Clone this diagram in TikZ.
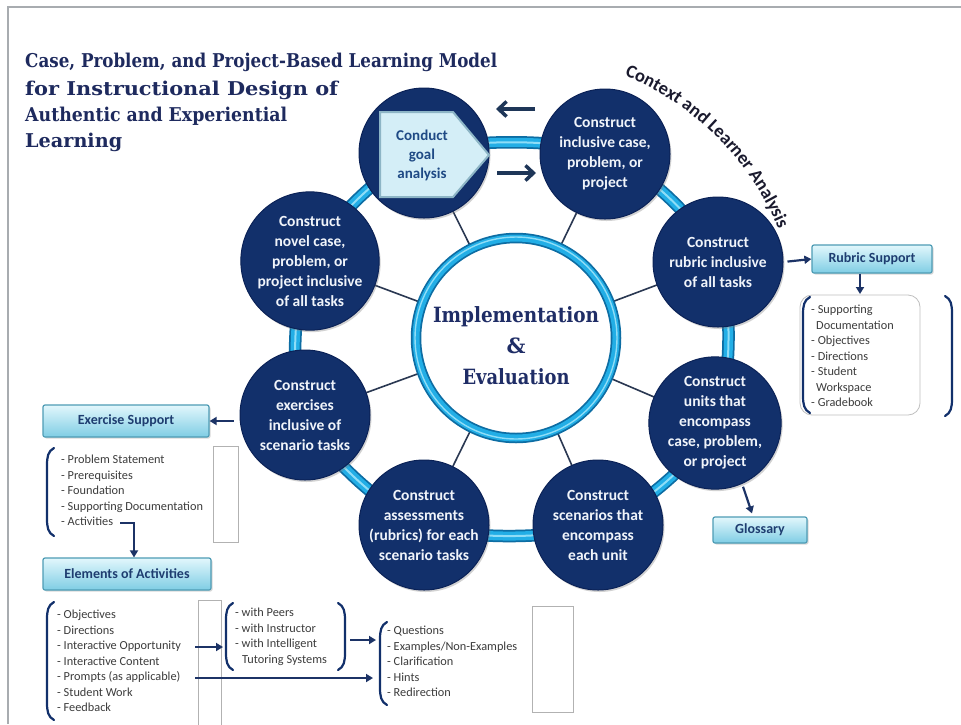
\documentclass[tikz,border=0pt]{standalone}
\usepackage{fontspec}
\usepackage{graphicx}
\setmainfont{Carlito}
\newfontfamily\serifbf{DejaVu Serif}
\usetikzlibrary{arrows.meta,shadows,decorations.text,calc}
\definecolor{navy}{HTML}{12306B}
\definecolor{navydark}{HTML}{0B2257}
\definecolor{ringcyan}{HTML}{22AEE6}
\definecolor{ringdark}{HTML}{0D6DA3}
\definecolor{ringlight}{HTML}{8EDDF7}
\definecolor{spokec}{HTML}{2A3852}
\definecolor{titlec}{HTML}{1E2A5E}
\definecolor{ctrtext}{HTML}{1F2D66}
\definecolor{btntop}{HTML}{E2F7FC}
\definecolor{btnbot}{HTML}{7FCDE4}
\definecolor{btnedge}{HTML}{4E9CB5}
\definecolor{btntext}{HTML}{1E3D70}
\definecolor{listtext}{HTML}{3C3C3C}
\definecolor{arrowc}{HTML}{1C3366}
\definecolor{bigarrc}{HTML}{1E3658}
\definecolor{pentfill}{HTML}{D4EEF7}
\definecolor{pentedge}{HTML}{8DB5C6}
\definecolor{penttext}{HTML}{1F4A85}
\definecolor{ctxcol}{HTML}{1A1A2E}
\definecolor{framegray}{HTML}{A8ACB0}
\definecolor{circtext}{HTML}{F0F4FA}
\newcommand\fitw[2]{\resizebox{#1}{\height}{#2}}
\newcommand\mylbrk[3]{\draw[brk] (#1+7,#2) .. controls (#1+1,#2+3) and (#1,#2+9) .. (#1,#2+17) -- (#1,#3-17) .. controls (#1,#3-9) and (#1+1,#3-3) .. (#1+7,#3);}
\newcommand\myrbrk[3]{\draw[brk] (#1-7,#2) .. controls (#1-1,#2+3) and (#1,#2+9) .. (#1,#2+17) -- (#1,#3-17) .. controls (#1,#3-9) and (#1-1,#3-3) .. (#1-7,#3);}
\begin{document}
\begin{tikzpicture}[x=1pt,y=-1pt,
  circ/.style={circle, fill=navy, draw=navydark, line width=1pt, minimum size=130pt, inner sep=0pt,
    text=circtext, align=center, font=\bfseries\fontsize{15.5}{20}\selectfont,
    drop shadow={opacity=0.35,shadow xshift=1.5pt,shadow yshift=-2pt}},
  btn/.style={rectangle, rounded corners=2pt, top color=btntop, bottom color=btnbot, draw=btnedge,
    line width=1.2pt, text=btntext, font=\bfseries\fontsize{14}{16}\selectfont, inner sep=0pt,
    drop shadow={opacity=0.3,shadow xshift=1.5pt,shadow yshift=-1.5pt}},
  lst/.style={anchor=north west, align=left, inner sep=0pt, text=listtext, font=\fontsize{12.3}{15.5}\selectfont},
  brk/.style={draw=navy, line width=2.2pt, line cap=round},
  arr/.style={draw=arrowc, line width=2.2pt, -{Triangle[length=7pt,width=8pt]}},
  bigarr/.style={draw=bigarrc, line width=3.5pt, -{Straight Barb[length=8pt,width=15pt]}},
  empt/.style={draw=black!30, line width=0.8pt},
  titlest/.style={anchor=base west, inner sep=0pt, text=titlec, font=\serifbf\bfseries\fontsize{19}{19}\selectfont}
]
\useasboundingbox (0,0) rectangle (961,724);
\fill[white] (0,0) rectangle (961,724);
\draw[framegray, line width=2pt] (8,724) -- (8,7) -- (961,7);

% title
\node[titlest] (t1) at (25,67) {\fitw{472pt}{Case, Problem, and Project-Based Learning Model}};
\node[titlest] (t2) at (25,95) {\fitw{313pt}{for Instructional Design of}};
\node[titlest] (t3) at (25,121) {\fitw{262pt}{Authentic and Experiential}};
\node[titlest] (t4) at (25,147) {\fitw{97pt}{Learning}};

% positions
\coordinate (cc) at (516,338);
\coordinate (p1) at (424,153);
\coordinate (p2) at (605,154);
\coordinate (p3) at (718,262);
\coordinate (p4) at (715,423);
\coordinate (p5) at (598,525);
\coordinate (p6) at (424,525);
\coordinate (p7) at (305,415);
\coordinate (p8) at (310,261);

% ring
\draw[ringdark, line width=12.5pt] plot[smooth cycle] coordinates {(p1) (p2) (p3) (p4) (p5) (p6) (p7) (p8)};
\draw[ringcyan, line width=9pt] plot[smooth cycle] coordinates {(p1) (p2) (p3) (p4) (p5) (p6) (p7) (p8)};
\draw[ringlight, line width=2pt] plot[smooth cycle] coordinates {(p1) (p2) (p3) (p4) (p5) (p6) (p7) (p8)};

% spokes
\foreach \i in {1,...,8} \draw[spokec, line width=1.6pt] (cc) -- (p\i);

% centre
\fill[white] (cc) circle[radius=100];
\draw[ringdark, line width=10.5pt] (cc) circle[radius=100];
\draw[ringcyan, line width=7pt] (cc) circle[radius=100];
\draw[ringlight, line width=1.4pt] (cc) circle[radius=101];
\node[circle, minimum size=190pt, inner sep=0pt, align=center, text=ctrtext,
  font=\serifbf\bfseries\fontsize{21}{31}\selectfont] (ctr) at (516,346)
  {\fitw{166pt}{Implementation}\\\&\\\fitw{107pt}{Evaluation}};

% outer circles
\node[circ] (c1) at (p1) {};
\node[circ] (c2) at (p2) {Construct\\inclusive case,\\problem, or\\project};
\node[circ] (c3) at (p3) {Construct\\rubric inclusive\\of all tasks};
\node[circ] (c4) at (p4) {Construct\\units that\\encompass\\case, problem,\\or project};
\node[circ] (c5) at (p5) {Construct\\scenarios that\\encompass\\each unit};
\node[circ] (c6) at (p6) {Construct\\assessments\\(rubrics) for each\\scenario tasks};
\node[circ] (c7) at (p7) {Construct\\exercises\\inclusive of\\scenario tasks};
\node[circ] (c8) at (p8) {Construct\\novel case,\\problem, or\\project inclusive\\of all tasks};

% goal pentagon
\coordinate (g1) at (380,112);
\coordinate (g2) at (453,112);
\coordinate (g3) at (489,155);
\coordinate (g4) at (453,197);
\coordinate (g5) at (380,197);
\draw[fill=pentfill, draw=pentedge, line width=2pt, line join=miter] (g1) -- (g2) -- (g3) -- (g4) -- (g5) -- cycle;
\node[text=penttext, font=\bfseries\fontsize{15}{19}\selectfont, align=center, inner sep=0pt] (goal) at (422,155) {Conduct\\goal\\analysis};

% arrows between c1 and c2
\coordinate (ta1) at (535,109);
\coordinate (ta2) at (496,109);
\coordinate (tb1) at (497,173);
\coordinate (tb2) at (536,173);
\draw[bigarr] (ta1) -- (ta2);
\draw[bigarr] (tb1) -- (tb2);

% context arc text
\path[decorate, decoration={text along path, text align=center, text color=ctxcol,
  text={|\bfseries\fontsize{18.5}{18.5}\selectfont|Context and Learner Analysis}}]
  ($(cc)+(-69:284)$) arc[start angle=-69, end angle=-21, radius=284];

% rubric support
\node[btn, minimum width=120pt, minimum height=28pt] (rub) at (872,259) {Rubric Support};
\draw[arr, shorten <=4pt] (c3.east) -- (rub.west);
\node[draw=black!25, line width=0.8pt, rounded corners=12pt, fill=white, minimum width=120pt, minimum height=120pt] (rbox) at (860,355) {};
\coordinate (rd) at (860,294);
\draw[arr] (rd |- rub.south) -- (rd);
\mylbrk{803}{297}{413}
\myrbrk{952}{296}{416}
\node[lst] (rlist) at (811,305) {- Supporting\\\hspace*{5pt}Documentation\\- Objectives\\- Directions\\- Student\\\hspace*{5pt}Workspace\\- Gradebook};

% glossary
\node[btn, minimum width=94pt, minimum height=26pt] (glos) at (760,530) {Glossary};
\draw[arr, shorten <=3pt] (c4.-66) -- ([xshift=-8pt,yshift=3pt]glos.north);

% exercise support
\node[btn, minimum width=166pt, minimum height=32pt] (exs) at (126,421) {Exercise Support};
\draw[arr, shorten <=6pt] ([yshift=-6pt]c7.west) -- (exs.east);
\mylbrk{47}{448}{536}
\node[lst] (elist) at (61,455) {- Problem Statement\\- Prerequisites\\- Foundation\\- Supporting Documentation\\- Activities};
\draw[empt] (213,446) rectangle (238,542);

% elements of activities
\node[btn, minimum width=168pt, minimum height=32pt] (ela) at (127,574) {Elements of Activities};
\coordinate (ea1) at (120,523);
\coordinate (ea2) at (134,523);
\draw[arr] (ea1) -- (ea2) -- (ea2 |- ela.north);
\mylbrk{47}{602}{720}
\node[lst] (alist) at (57,610) {- Objectives\\- Directions\\- Interactive Opportunity\\- Interactive Content\\- Prompts (as applicable)\\- Student Work\\- Feedback};
\draw[empt] (198,726) -- (198,600) -- (221,600) -- (221,726);

% peers group
\mylbrk{226}{603}{670}
\myrbrk{345}{603}{670}
\node[lst] (plist) at (235,608) {- with Peers\\- with Instructor\\- with Intelligent\\\hspace*{7pt}Tutoring Systems};
\coordinate (io1) at (195,647);
\coordinate (io2) at (223,647);
\draw[arr] (io1) -- (io2);
\coordinate (pq1) at (350,640);
\coordinate (pq2) at (376,640);
\draw[arr] (pq1) -- (pq2);
\coordinate (pr1) at (195,678);
\coordinate (pr2) at (373,678);
\draw[arr] (pr1) -- (pr2);

% questions group
\mylbrk{380}{622}{705}
\node[lst] (qlist) at (387,626) {- Questions\\- Examples/Non-Examples\\- Clarification\\- Hints\\- Redirection};
\draw[empt] (532,606) rectangle (573,712);
\end{tikzpicture}
\end{document}
